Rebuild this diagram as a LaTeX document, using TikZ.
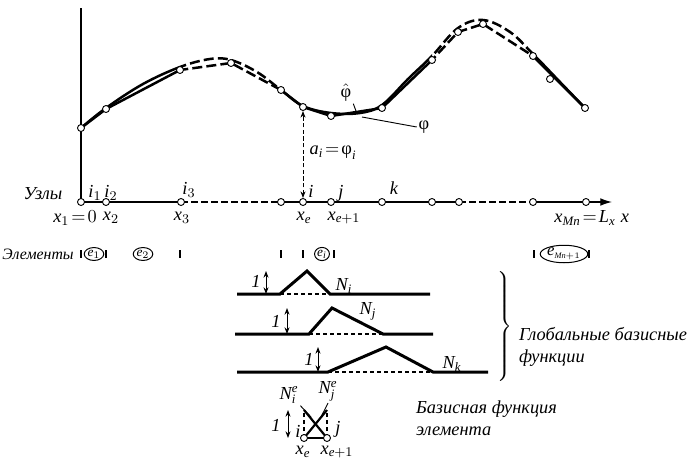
\documentclass[tikz,border=0pt]{standalone}
\usepackage{fontspec}
\setmainfont{Liberation Serif}
\DeclareSymbolFont{letters}{TU}{\rmdefault}{m}{it}
\usetikzlibrary{arrows.meta,shapes.geometric}

\begin{document}
\begin{tikzpicture}[x=0.6pt, y=-0.6pt,
    axis/.style={draw=black, line width=0.75pt},
    axis gap/.style={axis, dash pattern=on 4pt off 2pt},
    knot/.style={draw=black, circle, fill=white, minimum size=4.2pt,
        inner sep=0pt, line width=0.55pt},
    field/.style={draw=black, line width=1.5pt, line join=round},
    field gap/.style={field, dash pattern=on 6pt off 2.5pt},
    shape fn/.style={draw=black, line width=1.8pt, line join=miter},
    shape base/.style={draw=black, line width=0.9pt,
        dash pattern=on 2.6pt off 1.6pt},
    unit/.style={draw=black, line width=0.6pt,
        {Stealth[length=4pt,width=3pt]}-{Stealth[length=4pt,width=3pt]}},
    leader/.style={draw=black, line width=0.55pt},
    tick mark/.style={draw=black, line width=0.7pt},
    element/.style={draw=black, ellipse, line width=0.6pt, inner sep=0.3pt,
        font=\fontsize{8}{9}\selectfont},
    txt/.style={font=\fontsize{11}{13}\selectfont\itshape, inner sep=1pt},
    caption/.style={txt, align=left, anchor=west}
]
    \path[use as bounding box] (0,0) rectangle (698,461);

    % Axes and mesh nodes.
    \coordinate (top) at (81,8);
    \coordinate (ax1) at (81,202);
    \coordinate (ax2) at (106,202);
    \coordinate (ax3) at (181,202);
    \coordinate (ax4) at (281,202);
    \coordinate (ax5) at (303,202);
    \coordinate (ax6) at (331,202);
    \coordinate (ax7) at (382,202);
    \coordinate (ax8) at (432,202);
    \coordinate (ax9) at (459,202);
    \coordinate (ax10) at (533,202);
    \coordinate (ax11) at (586,202);
    \coordinate (xend) at (612,202);
    \draw[axis] (top) -- (ax1);
    \draw[axis] (ax1) -- (ax3);
    \draw[axis gap] (ax3) -- (ax4);
    \draw[axis] (ax4) -- (ax9);
    \draw[axis gap] (ax9) -- (ax10);
    \draw[axis, -{Latex[length=7pt,width=4.6pt]}] (ax10) -- (xend);

    % Nodal values of the field.
    \coordinate (c1) at (81,128);
    \coordinate (c2) at (106,109);
    \coordinate (c3) at (180,70);
    \coordinate (c4) at (231,63);
    \coordinate (c5) at (281,90);
    \coordinate (c6) at (303,107);
    \coordinate (c7) at (331,116);
    \coordinate (c8) at (382,108);
    \coordinate (c9) at (432,60);
    \coordinate (c10) at (458,32);
    \coordinate (c11) at (483,24);
    \coordinate (c12) at (533,56);
    \coordinate (c13) at (550,79);
    \coordinate (c14) at (585,108);

    % Solid stretches of both curves.
    \begin{scope}
        \clip (60,0) rectangle (181,200) (281,0) rectangle (432,200)
            (533,0) rectangle (620,200);
        \draw[field] plot coordinates {(c1) (c2) (c3) (c4) (c5) (c6) (c7)
            (c8) (c9) (c10) (c11) (c12) (c14)};
        \draw[field] plot[smooth, tension=0.6] coordinates {(81,128)
            (106,108) (143,84) (180,67) (210,59) (231,60) (257,72) (281,90)
            (303,106) (331,113) (360,113) (382,105) (408,79) (432,56)
            (458,28) (483,20) (510,32) (533,54) (560,82) (585,108)};
    \end{scope}
    % Dashed stretches of both curves.
    \begin{scope}
        \clip (181,0) rectangle (281,200) (432,0) rectangle (533,200);
        \draw[field gap] plot coordinates {(c1) (c2) (c3) (c4) (c5) (c6)
            (c7) (c8) (c9) (c10) (c11) (c12) (c14)};
        \draw[field gap] plot[smooth, tension=0.6] coordinates {(81,128)
            (106,108) (143,84) (180,67) (210,59) (231,60) (257,72) (281,90)
            (303,106) (331,113) (360,113) (382,105) (408,79) (432,56)
            (458,28) (483,20) (510,32) (533,54) (560,82) (585,108)};
    \end{scope}

    \foreach \n in {1,...,14}
        \node[knot] (k\n) at (c\n) {};
    \foreach \n in {1,...,11}
        \node[knot] (n\n) at (ax\n) {};

    \draw[unit, dash pattern=on 2.5pt off 1.5pt] (n5) -- (k6);
    \node[txt] (ai) at (333,153) {$a_i\!=\!\mbox{\upshape φ}_i$};

    % Curve labels.
    \node[txt] (phihat) at (346,93) {$\hat{\mbox{\upshape φ}}$};
    \coordinate (phihat tip) at (356,111);
    \draw[leader] (phihat.south east) -- (phihat tip);
    \node[txt] (phi) at (424,127) {\upshape φ};
    \coordinate (phi tip) at (362,117);
    \draw[leader] (phi.west) -- (phi tip);

    % Node labels.
    \node[txt] (nodes) at (43,194) {Узлы};
    \node[txt] (i1) at (95,193) {$i_1$};
    \node[txt] (i2) at (111,193) {$i_2$};
    \node[txt] (i3) at (189,190) {$i_3$};
    \node[txt] (ii) at (311,191) {$i$};
    \node[txt] (jj) at (341,193) {$j$};
    \node[txt] (kk) at (394,188) {$k$};
    \node[txt] (x1) at (75,218) {$x_1\!=\!0$};
    \node[txt] (x2) at (111,218) {$x_2$};
    \node[txt] (x3) at (182,218) {$x_3$};
    \node[txt] (xe) at (304,218) {$x_e$};
    \node[txt] (xe1) at (344,218) {$x_{e+1}$};
    \node[txt] (xmn) at (585,218) {$x_{Mn}\!=\!L_x$};
    \node[txt] (xx) at (625,218) {$x$};

    % Elements.
    \node[txt, font=\fontsize{9.5}{11}\selectfont\itshape] (elems) at (38,254) {Элементы};
    \draw[tick mark] (81,250) -- (81,258);
    \draw[tick mark] (106,250) -- (106,258);
    \draw[tick mark] (180,250) -- (180,258);
    \draw[tick mark] (281,250) -- (281,258);
    \draw[tick mark] (303,250) -- (303,258);
    \draw[tick mark] (334,250) -- (334,258);
    \draw[tick mark] (534,250) -- (534,258);
    \draw[tick mark] (589,250) -- (589,258);
    \node[element] (e1) at (94,254) {$e_1$};
    \node[element] (e2) at (143,254) {$e_2$};
    \node[element] (ei) at (322,254) {$e_i$};
    \node[element, inner sep=0pt, minimum height=10.5pt,
        font=\fontsize{10}{11}\selectfont] (emn) at (564,254) {$e_{\scriptscriptstyle Mn+1}$};

    % Global basis function N_i.
    \coordinate (ni0) at (237,294);
    \coordinate (ni1) at (280,294);
    \coordinate (nip) at (307,271);
    \coordinate (ni2) at (330,294);
    \coordinate (ni3) at (430,294);
    \draw[shape fn] (ni0) -- (ni1) -- (nip) -- (ni2) -- (ni3);
    \draw[shape base] (ni1) -- (ni2);
    \coordinate (niu0) at (266,294);
    \coordinate (niu1) at (266,271);
    \draw[unit] (niu0) -- (niu1);
    \node[txt] (ione) at (256,281) {1};
    \node[txt] (nilab) at (344,286) {$N_i$};

    % Global basis function N_j.
    \coordinate (nj0) at (235,334);
    \coordinate (nj1) at (309,334);
    \coordinate (njp) at (332,308);
    \coordinate (nj2) at (383,334);
    \coordinate (nj3) at (433,334);
    \draw[shape fn] (nj0) -- (nj1) -- (njp) -- (nj2) -- (nj3);
    \draw[shape base] (nj1) -- (nj2);
    \coordinate (nju0) at (287,334);
    \coordinate (nju1) at (287,308);
    \draw[unit] (nju0) -- (nju1);
    \node[txt] (jone) at (276,321) {1};
    \node[txt] (njlab) at (368,311) {$N_j$};

    % Global basis function N_k.
    \coordinate (nk0) at (237,372);
    \coordinate (nk1) at (328,372);
    \coordinate (nkp) at (386,347);
    \coordinate (nk2) at (433,372);
    \coordinate (nk3) at (488,372);
    \draw[shape fn] (nk0) -- (nk1) -- (nkp) -- (nk2) -- (nk3);
    \draw[shape base] (nk1) -- (nk2);
    \coordinate (nku0) at (318,372);
    \coordinate (nku1) at (318,347);
    \draw[unit] (nku0) -- (nku1);
    \node[txt] (kone) at (309,359) {1};
    \node[txt] (nklab) at (452,364) {$N_k$};

    \node[inner sep=0pt] (gbrace) at (504,326) {$\left.\vcenter{\hbox{\rule{0pt}{70pt}}}\right\}$};
    \node[caption] (gcap) at (517,347) {Глобальные базисные\\функции};

    % Element basis functions.
    \coordinate (ebi) at (304,438);
    \coordinate (ebj) at (327,438);
    \coordinate (ebit) at (304,410);
    \coordinate (ebjt) at (327,410);
    \draw[shape base, line width=1pt] (ebi) -- (ebit);
    \draw[shape base, line width=1pt] (ebj) -- (ebjt);
    \draw[shape fn, line width=1.3pt] (ebit) -- (ebj);
    \draw[shape fn, line width=1.3pt] (ebi) -- (ebjt);
    \draw[shape fn, line width=1.3pt] (ebi) -- (ebj);
    \node[knot] (eni) at (ebi) {};
    \node[knot] (enj) at (ebj) {};
    \coordinate (ebu0) at (288,438);
    \coordinate (ebu1) at (288,410);
    \draw[unit] (ebu0) -- (ebu1);
    \node[txt] (eone) at (276,425) {1};
    \node[txt] (eil) at (298,431) {$i$};
    \node[txt] (ejl) at (338,429) {$j$};
    \node[txt] (exe) at (303,452) {$x_e$};
    \node[txt] (exe1) at (337,452) {$x_{e+1}$};
    \node[txt] (nie) at (289,395) {$N_i^e$};
    \node[txt] (nje) at (328,391) {$N_j^e$};
    \coordinate (nie tip) at (311,417);
    \coordinate (nje tip) at (321,417);
    \draw[leader] (nie.south east) -- (nie tip);
    \draw[leader] (nje.south) -- (nje tip);
    \node[caption] (ecap) at (414,418) {Базисная функция\\элемента};
\end{tikzpicture}
\end{document}
